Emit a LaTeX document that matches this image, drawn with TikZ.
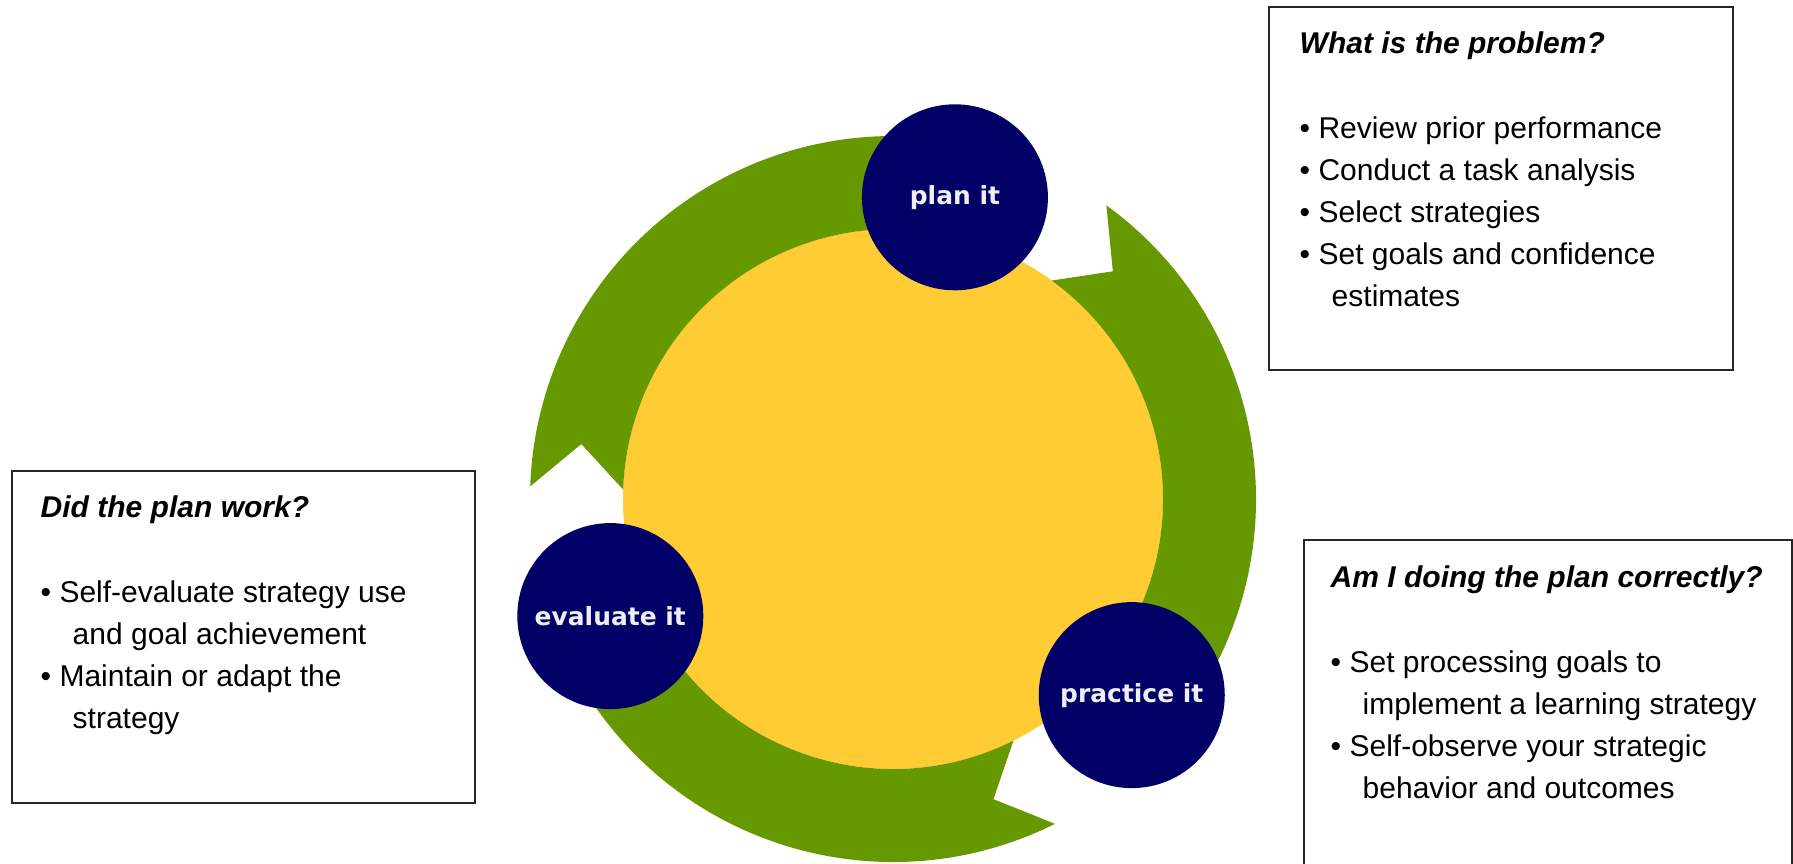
\documentclass[tikz,border=0pt]{standalone}
\usepackage{fontspec}
\setmainfont{Liberation Sans}
\newfontfamily\stepfont{DejaVu Sans}
\usepackage{tikz}
\usetikzlibrary{calc,positioning,shapes.geometric,shapes}
\definecolor{leaf}{HTML}{669900}
\definecolor{sun}{HTML}{FFCC33}
\definecolor{navy}{HTML}{000066}
\definecolor{chalk}{HTML}{EEEEF4}

% green band of the cycle: notched tail at #1, head (under a circle) at #2
\newcommand{\cycleband}[2]{%
  \fill[leaf] (#1:3.63) arc[start angle=#1, end angle={#2+6}, radius=3.63]
    -- ({#2-2}:3.165) -- ({#2+6}:2.70) arc[start angle={#2+6}, end angle=#1, radius=2.70]
    -- ({#1-8}:3.165) -- cycle;}
\newcommand{\bul}{\textbullet\ }
\newcommand{\cont}{\hspace*{0.32cm}}

\begin{document}
\begin{tikzpicture}[
      stepcircle/.style={circle, fill=navy, minimum size=1.86cm, inner sep=0pt, text=chalk,
        font=\stepfont\bfseries\fontsize{7.1pt}{8.5pt}\selectfont},
      infobox/.style={draw=black!85, line width=0.7pt, fill=white, anchor=north west, inner sep=0pt},
      boxtext/.style={anchor=north west, align=left, inner sep=0pt,
        font=\fontsize{8.54pt}{11.95pt}\selectfont}]
      \useasboundingbox (0,0) rectangle (17.93,-8.64);
      \clip (0,0) rectangle (17.93,-8.64);
      \coordinate (hub) at (8.93,-4.99);
      \fill[sun] (hub) circle (2.70);
      \begin{scope}[shift={(hub)}]
        \cycleband{54}{-39.4}
        \cycleband{-63.5}{-157.5}
        \cycleband{178}{78.4}
        \node (plan) at (78.4:3.08) [stepcircle] {plan it};
        \node (practice) at (-39.4:3.09) [stepcircle] {practice it};
        \node (evaluate) at (202.5:3.06) [stepcircle] {evaluate it};
      \end{scope}
      \node (problembox) at (12.68,-0.06) [infobox, minimum width=4.64cm, minimum height=3.63cm] {};
      \node (problemtext) at ([shift={(0.31,-0.25)}]problembox.north west) [boxtext]
        {\textbf{\textit{What is the problem?}}\\[0.43cm]
         \bul Review prior performance\\
         \bul Conduct a task analysis\\
         \bul Select strategies\\
         \bul Set goals and confidence\\
         \cont estimates};
      \node (workbox) at (0.11,-4.70) [infobox, minimum width=4.63cm, minimum height=3.32cm] {};
      \node (worktext) at ([shift={(0.29,-0.25)}]workbox.north west) [boxtext]
        {\textbf{\textit{Did the plan work?}}\\[0.43cm]
         \bul Self-evaluate strategy use\\
         \cont and goal achievement\\
         \bul Maintain or adapt the\\
         \cont strategy};
      \node (doingbox) at (13.03,-5.39) [infobox, minimum width=4.88cm, minimum height=3.6cm] {};
      \node (doingtext) at ([shift={(0.27,-0.26)}]doingbox.north west) [boxtext]
        {\textbf{\textit{Am I doing the plan correctly?}}\\[0.43cm]
         \bul Set processing goals to\\
         \cont implement a learning strategy\\
         \bul Self-observe your strategic\\
         \cont behavior and outcomes};
  \end{tikzpicture}
\end{document}
